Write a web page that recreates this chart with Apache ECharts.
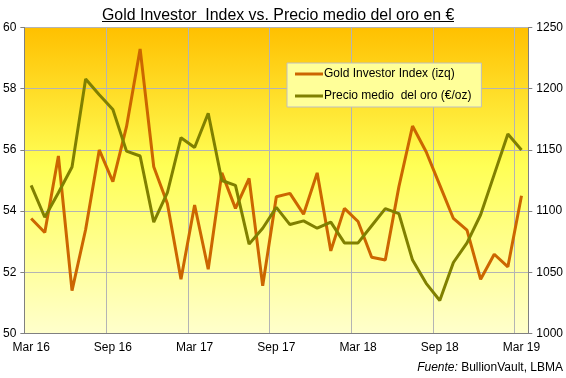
<!DOCTYPE html>
<html><head><meta charset="utf-8">
<script src="https://cdn.jsdelivr.net/npm/echarts@6/dist/echarts.min.js"></script>
<style>html,body{margin:0;padding:0;background:#fff}#c{width:566px;height:378px}</style>
</head><body><div id="c"></div>
<script>
const monthNames = ['Jan','Feb','Mar','Apr','May','Jun','Jul','Aug','Sep','Oct','Nov','Dec'];
const categories = [];
for (let i = 0; i < 37; i++) {
  categories.push(monthNames[(2 + i) % 12] + ' ' + (16 + Math.floor((2 + i) / 12)));
}
const goldInvestorIndex = [53.76, 53.3, 55.8, 51.4, 53.4, 56.0, 54.96, 56.76, 59.3, 55.45, 54.25, 51.77, 54.2,
  52.1, 55.25, 54.09, 55.07, 51.56, 54.47, 54.58, 53.9, 55.25, 52.7, 54.09, 53.66,
  52.49, 52.4, 54.8, 56.78, 55.94, 54.85, 53.76, 53.38, 51.77, 52.59, 52.18, 54.5];
const precioMedio = [1121, 1095, 1115, 1136, 1208, 1195, 1183, 1149, 1145, 1091, 1115, 1160, 1152,
  1180, 1125, 1121, 1073, 1086, 1103, 1089, 1092, 1086, 1091, 1074, 1074,
  1088, 1102, 1098, 1060, 1041, 1027, 1058, 1074, 1097, 1130, 1163, 1150];
const seriesNames = ['Gold Investor Index (izq)', 'Precio medio  del oro (€/oz)'];
const titleText = 'Gold Investor  Index vs. Precio medio del oro en €';

const chart = echarts.init(document.getElementById('c'));
const font = 'Liberation Sans, Arial, sans-serif';
chart.setOption({
  animation: false,
  backgroundColor: '#ffffff',
  textStyle: { fontFamily: font },
  title: {
    text: titleText, left: 97, top: 3,
    textStyle: { fontFamily: font, fontSize: 15.9, fontWeight: 'normal', color: '#000' }
  },
  graphic: [{
    type: 'line', shape: { x1: 102, y1: 21.5, x2: 454, y2: 21.5 },
    style: { stroke: '#000', lineWidth: 1 }
  }, {
    type: 'text', right: 3, top: 362,
    style: {
      text: '{i|Fuente:} BullionVault, LBMA',
      rich: { i: { fontStyle: 'italic', fontFamily: font, fontSize: 12, fill: '#000' } },
      font: '12px ' + font, fill: '#000'
    }
  }],
  grid: {
    left: 23.5, right: 37, top: 27.5, bottom: 44.5, show: true,
    borderWidth: 0,
    backgroundColor: new echarts.graphic.LinearGradient(0, 0, 0, 1, [
      { offset: 0, color: '#FFC000' },
      { offset: 0.45, color: '#FFFF55' },
      { offset: 1, color: '#FFFFCC' }
    ])
  },
  legend: {
    left: 287, top: 63, orient: 'vertical',
    backgroundColor: '#FFFF99', borderColor: '#BFBFBF', borderWidth: 1,
    padding: [5, 10, 5, 8], itemGap: 10,
    itemWidth: 28, itemHeight: 3, icon: 'rect',
    textStyle: { fontFamily: font, fontSize: 12, color: '#000', padding: [0, 0, 0, -4] },
    data: seriesNames
  },
  xAxis: {
    type: 'category', data: categories, boundaryGap: true,
    axisLine: { lineStyle: { color: '#808080' } },
    axisTick: { interval: 5, length: 4, lineStyle: { color: '#808080' } },
    axisLabel: { interval: 5, color: '#000', fontSize: 12, fontFamily: font, margin: 8 },
    splitLine: { show: true, interval: 5, lineStyle: { color: '#B4B4B4' } }
  },
  yAxis: [{
    type: 'value', min: 50, max: 60, interval: 2, position: 'left',
    axisLine: { show: true, lineStyle: { color: '#808080' } },
    axisTick: { show: true, length: 4, lineStyle: { color: '#808080' } },
    axisLabel: { color: '#000', fontSize: 12, fontFamily: font, margin: 8 },
    splitLine: { show: true, lineStyle: { color: '#B4B4B4' } }
  }, {
    type: 'value', min: 1000, max: 1250, interval: 50, position: 'right',
    axisLine: { show: true, lineStyle: { color: '#808080' } },
    axisTick: { show: true, length: 4, lineStyle: { color: '#808080' } },
    axisLabel: { color: '#000', fontSize: 12, fontFamily: font, margin: 8, formatter: v => String(v) },
    splitLine: { show: false }
  }],
  series: [{
    name: seriesNames[0], type: 'line', yAxisIndex: 0, data: goldInvestorIndex,
    symbol: 'none', lineStyle: { color: '#CC6600', width: 3 }, itemStyle: { color: '#CC6600' }
  }, {
    name: seriesNames[1], type: 'line', yAxisIndex: 1, data: precioMedio,
    symbol: 'none', lineStyle: { color: '#808000', width: 3 }, itemStyle: { color: '#808000' }
  }]
});
</script></body></html>
